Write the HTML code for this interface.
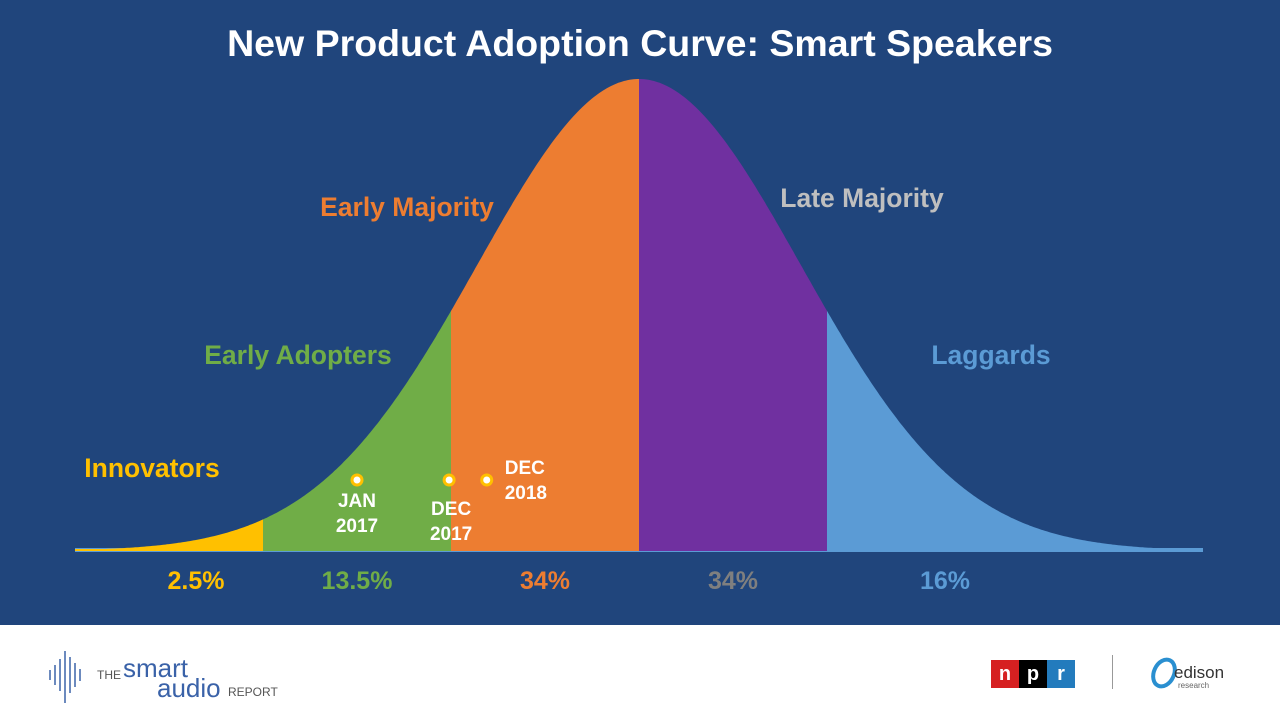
<!DOCTYPE html>
<html><head><meta charset="utf-8"><style>
body{margin:0;width:1280px;height:720px;overflow:hidden;font-family:"Liberation Sans",sans-serif;background:#fff}
#main{position:absolute;left:0;top:0;width:1280px;height:625px;background:#20457c}
.t{position:absolute;font-weight:bold;white-space:nowrap}
</style></head><body>
<div id="main">
<svg id="chart" width="1280" height="625"></svg>
</div>
<div class="t" style="left:0;width:1280px;text-align:center;top:22px;font-size:37.5px;color:#fff">New Product Adoption Curve: Smart Speakers</div>
<div style="position:absolute;left:45px;top:645px;width:250px;height:60px">
<svg width="50" height="60"><g stroke="#3a62a8" stroke-width="1.5">
<line x1="5" y1="25" x2="5" y2="35"/><line x1="10" y1="20" x2="10" y2="40"/><line x1="15" y1="14" x2="15" y2="46"/><line x1="20" y1="6" x2="20" y2="58"/><line x1="25" y1="12" x2="25" y2="48"/><line x1="30" y1="18" x2="30" y2="42"/><line x1="35" y1="24" x2="35" y2="36"/></g></svg>
<span style="position:absolute;left:52px;top:23px;font-size:12px;color:#555">THE</span>
<span style="position:absolute;left:78px;top:8px;font-size:26px;color:#3a62a8">smart</span>
<span style="position:absolute;left:112px;top:28px;font-size:26px;color:#3a62a8">audio</span>
<span style="position:absolute;left:183px;top:40px;font-size:12px;color:#555">REPORT</span>
</div>
<div style="position:absolute;left:991px;top:660px;width:84px;height:28px;display:flex;font-weight:bold;font-size:20px;color:#fff;text-align:center;line-height:28px">
<div style="flex:1;background:#d62021">n</div><div style="flex:1;background:#000">p</div><div style="flex:1;background:#237bbd">r</div></div>
<div style="position:absolute;left:1112px;top:655px;width:1px;height:34px;background:#999"></div>
<div style="position:absolute;left:1150px;top:655px;width:90px;height:40px">
<svg width="30" height="36"><ellipse cx="14" cy="18" rx="10" ry="14" fill="none" stroke="#2a8fd0" stroke-width="4" transform="rotate(25 14 18)"/></svg>
<span style="position:absolute;left:24px;top:8px;font-size:17px;color:#333">edison</span>
<span style="position:absolute;left:28px;top:26px;font-size:8px;color:#666">research</span>
</div>
<script>
const segments=["Innovators","Early Adopters","Early Majority","Late Majority","Laggards"];
const shares=["2.5%","13.5%","34%","34%","16%"];
const bounds=[-3,-2,-1,0,1,3];
const colors=["#ffc000","#70ad47","#ed7d31","#7030a0","#5b9bd5"];
const labelColors=["#ffc000","#70ad47","#ed7d31","#bfbfbf","#5b9bd5"];
const markerLabels=[["JAN","2017"],["DEC","2017"],["DEC","2018"]];
const markerSd=[-1.5,-1.01,-0.81];
const xs=v=>639+v*188;
const ys=h=>551-h*472;
const sig=0.86;
const f=v=>Math.exp(-v*v/(2*sig*sig));
const ns="http://www.w3.org/2000/svg";
const svg=document.getElementById('chart');
function mk(t,a){const e=document.createElementNS(ns,t);for(const k in a)e.setAttribute(k,a[k]);svg.appendChild(e);return e;}
const base=mk('rect',{x:xs(-3),y:548,width:xs(3)-xs(-3),height:4,fill:'#5b9bd5'});


for(let i=0;i<segments.length;i++){
  let d='M'+xs(bounds[i])+' 551';
  for(let v=bounds[i];v<=bounds[i+1]+1e-9;v+=0.01){d+=' L'+xs(v).toFixed(1)+' '+Math.min(549,ys(f(v))).toFixed(1);}
  d+=' L'+xs(bounds[i+1])+' 551 Z';
  const p=mk('path',{d:d,fill:colors[i]});
  
  
}
const segLabelPos=[[152,468],[298,355],[407,207],[862,198],[991,355]];
for(let i=0;i<segments.length;i++){
  const t=mk('text',{x:segLabelPos[i][0],y:segLabelPos[i][1]+9,'text-anchor':'middle','font-size':26.5,'font-weight':'bold',fill:labelColors[i],'font-family':'Liberation Sans'});
  t.textContent=segments[i];
  
  
  const cx=(xs(bounds[i])+xs(bounds[i+1]))/2;
  const sx=i==0?196:(i==4?945:cx);
  const s=mk('text',{x:sx,y:589,'text-anchor':'middle','font-size':25,'font-weight':'bold',fill:i==3?'#7f7f7f':labelColors[i],'font-family':'Liberation Sans'});
  s.textContent=shares[i];
  
  
}
const mlab=[[0,507,'middle'],[2,515,'middle'],[40,474,'start']];
for(let i=0;i<markerSd.length;i++){
  const cx=xs(markerSd[i]);
  const c=mk('circle',{cx:cx,cy:480,r:5,fill:'#fff',stroke:'#ffc000','stroke-width':3});
  
  
  for(let j=0;j<2;j++){
    const anchor=mlab[i][2];
    const lx=i==2?cx+18:cx+mlab[i][0];
    const t=mk('text',{x:lx,y:mlab[i][1]+j*25,'text-anchor':anchor,'font-size':19,'font-weight':'bold',fill:'#fff','font-family':'Liberation Sans'});
    t.textContent=markerLabels[i][j];
    
    
  }
}
</script>
</body></html>
